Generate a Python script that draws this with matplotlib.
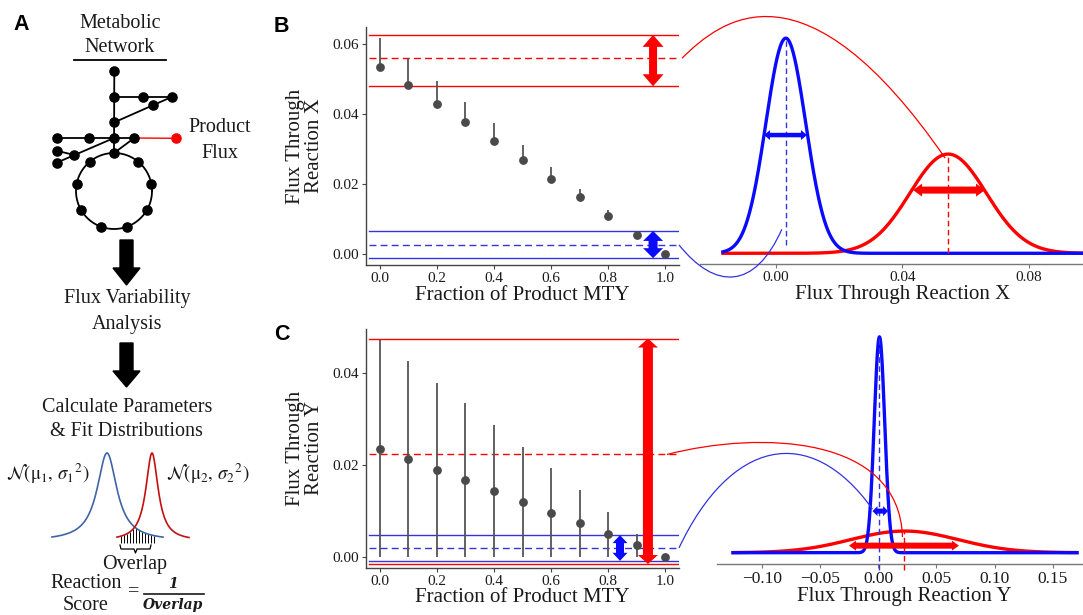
import numpy as np
import matplotlib
matplotlib.use("Agg")
import matplotlib.pyplot as plt
from matplotlib.path import Path
from matplotlib.patches import PathPatch, Polygon, FancyArrow

W, H = 1083, 615

# ---------------- data ----------------
frac_mty = [0.0, 0.1, 0.2, 0.3, 0.4, 0.5, 0.6, 0.7, 0.8, 0.9, 1.0]

# panel B : flux through reaction X (point = lower end of FVA range)
rxnX_point = [0.0536, 0.0484, 0.0430, 0.0377, 0.0323, 0.0269, 0.0216, 0.0162, 0.0109, 0.0054, 0.0]
rxnX_low = [0.0536, 0.0484, 0.0430, 0.0377, 0.0323, 0.0269, 0.0216, 0.0162, 0.0109, 0.0054, 0.0]
rxnX_high = [0.0617, 0.0557, 0.0496, 0.0435, 0.0374, 0.0311, 0.0250, 0.0187, 0.0126, 0.0059, 0.0]

# panel C : flux through reaction Y
rxnY_point = [0.0236, 0.0213, 0.0190, 0.0167, 0.0143, 0.0119, 0.0096, 0.0073, 0.0049, 0.0025, 0.0]
rxnY_low = [0.0] * 11
rxnY_high = [0.0473, 0.0426, 0.0380, 0.0335, 0.0287, 0.0240, 0.0193, 0.0145, 0.0098, 0.0050, 0.0]

# horizontal bands: lower, mean, upper
bandX_red = [0.0480, 0.0560, 0.0627]
bandX_blue = [-0.0012, 0.0026, 0.0066]
bandY_red = [-0.0016, 0.0223, 0.0476]
bandY_blue = [-0.0009, 0.0019, 0.0047]

# fitted distributions: mean, sd, peak density
distX_blue = [0.0031, 0.0063, 63.3]
distX_red = [0.0545, 0.0121, 29.2]
distY_blue = [0.0010, 0.0045, 88.7]
distY_red = [0.0225, 0.0460, 8.9]
gridX = [-0.0168, 0.115]
gridY = [-0.1248, 0.1707]

# spread arrows in distribution panels: height, left end, right end
sprX_blue = [34.8, -0.0038, 0.0098]
sprX_red = [18.6, 0.0434, 0.0662]
sprY_blue = [17.1, -0.0050, 0.0084]
sprY_red = [2.9, -0.0252, 0.0693]

left_xticks = [0.0, 0.2, 0.4, 0.6, 0.8, 1.0]
leftX_yticks = [0.00, 0.02, 0.04, 0.06]
leftY_yticks = [0.00, 0.02, 0.04]
distX_ticks = [0.00, 0.04, 0.08]
distY_ticks = [-0.10, -0.05, 0.00, 0.05, 0.10, 0.15]

# ---------------- style ----------------
plt.rcParams['font.family'] = ['Liberation Serif', 'DejaVu Serif']
plt.rcParams['mathtext.fontset'] = 'stix'
RED = '#ff0000'
BLUE = '#0a0aff'
LBLUE = '#3333e0'
INK = '#1a1a1a'

fig = plt.figure(figsize=(W / 100, H / 100), dpi=100)


def rect(l, t, r, b):
    return [l / W, 1 - b / H, (r - l) / W, (b - t) / H]


axB = fig.add_axes(rect(366, 27, 679, 265))
axC = fig.add_axes(rect(366, 329, 679, 568))
axBr = fig.add_axes(rect(700, 10, 1083, 264))
axCr = fig.add_axes(rect(717, 320, 1083, 564))
axO = fig.add_axes([0, 0, 1, 1])
axO.set_xlim(0, W)
axO.set_ylim(H, 0)
axO.axis('off')
axO.patch.set_alpha(0)
axO.set_zorder(10)


def fva_panel(ax, pts, lo, hi, red, blue, ylim, yticks):
    ax.vlines(frac_mty, lo, hi, color='#555555', lw=1.3, zorder=3)
    ax.plot(frac_mty, pts, 'o', ms=5.3, color='#4a4a4a', mec='#4a4a4a', zorder=4)
    for vals, col in ((red, RED), (blue, LBLUE)):
        ax.axhline(vals[0], xmin=0.01, color=col, lw=1.0, zorder=2)
        ax.axhline(vals[1], xmin=0.01, color=col, lw=1.0, ls=(0, (5, 3)), zorder=2)
        ax.axhline(vals[2], xmin=0.01, color=col, lw=1.0, zorder=2)
    ax.set_xlim(-0.049, 1.049)
    ax.set_ylim(*ylim)
    ax.set_xticks(left_xticks)
    ax.set_xticklabels([f"{v:.1f}" for v in left_xticks])
    ax.set_yticks(yticks)
    ax.set_yticklabels([f"{v:.2f}" for v in yticks])
    for s in ('top', 'right'):
        ax.spines[s].set_visible(False)
    for s in ('left', 'bottom'):
        ax.spines[s].set_color('#444444')
        ax.spines[s].set_linewidth(1.0)
    ax.tick_params(length=3, width=0.8, color='#444444', labelsize=11,
                   labelcolor=INK, pad=2)
    ax.patch.set_alpha(0)


fva_panel(axB, rxnX_point, rxnX_low, rxnX_high, bandX_red, bandX_blue,
          (-0.00315, 0.06495), leftX_yticks)
fva_panel(axC, rxnY_point, rxnY_low, rxnY_high, bandY_red, bandY_blue,
          (-0.00247, 0.04968), leftY_yticks)


def gauss(d, xs):
    return d[2] * np.exp(-0.5 * ((xs - d[0]) / d[1]) ** 2)


def dist_panel(ax, blue, red, grid, xlim, ylim, ticks, labels, dash_lo, tsize):
    xs = np.linspace(grid[0], grid[1], 800)
    ax.plot(xs, gauss(red, xs), color=RED, lw=2.4, zorder=2)
    ax.plot(xs, gauss(blue, xs), color=BLUE, lw=2.4, zorder=3)
    ax.plot([red[0], red[0]], [dash_lo[1], red[2]], color=RED, lw=1.0,
            ls=(0, (4, 2.5)), zorder=4, clip_on=False)
    ax.plot([blue[0], blue[0]], [dash_lo[0], blue[2]], color=LBLUE, lw=1.0,
            ls=(0, (4, 2.5)), zorder=4, clip_on=False)
    ax.set_xlim(*xlim)
    ax.set_ylim(*ylim)
    ax.set_xticks(ticks)
    ax.set_xticklabels(labels)
    ax.set_yticks([])
    for s in ('top', 'right', 'left'):
        ax.spines[s].set_visible(False)
    ax.spines['bottom'].set_color('#777777')
    ax.spines['bottom'].set_linewidth(1.0)
    ax.tick_params(length=3, width=0.8, color='#777777', labelsize=tsize,
                   labelcolor=INK, pad=2)
    ax.patch.set_alpha(0)


dist_panel(axBr, distX_blue, distX_red, gridX, (-0.02407, 0.09721), (-3.15, 71.6),
           distX_ticks, [f"{v:.2f}" for v in distX_ticks], (2.4, 0.0), 11)
dist_panel(axCr, distY_blue, distY_red, gridY, (-0.1386, 0.1759), (-4.64, 95.6),
           distY_ticks, [f"{v:.2f}".replace('-', '\u2212') for v in distY_ticks],
           (-7.1, -7.1), 12.5)


# ---------------- helpers in pixel space ----------------
def pix(ax, x, y):
    xd, yd = ax.transData.transform((x, y))
    return np.array([xd, H - yd])


def dbl_arrow(p0, p1, w, hw, hl, color, z=6):
    p0 = np.asarray(p0, float)
    p1 = np.asarray(p1, float)
    d = p1 - p0
    u = d / np.hypot(*d)
    n = np.array([-u[1], u[0]])
    a = p0 + u * hl
    b = p1 - u * hl
    verts = [p0, a + n * hw / 2, a + n * w / 2, b + n * w / 2, b + n * hw / 2,
             p1, b - n * hw / 2, b - n * w / 2, a - n * w / 2, a - n * hw / 2]
    axO.add_patch(Polygon(verts, closed=True, fc=color, ec='none', zorder=z))


def connector(p0, c1, c2, p3, color, lw=0.9):
    path = Path([p0, c1, c2, p3], [Path.MOVETO, Path.CURVE4, Path.CURVE4, Path.CURVE4])
    axO.add_patch(PathPatch(path, fc='none', ec=color, lw=lw, zorder=5))


# spread arrows on FVA panels
arrow_x_B = 0.958
arrow_x_C_red = 0.94
arrow_x_C_blue = 0.842
dbl_arrow(pix(axB, arrow_x_B, bandX_red[2]), pix(axB, arrow_x_B, bandX_red[0]), 8, 21, 12, RED)
dbl_arrow(pix(axB, arrow_x_B, bandX_blue[2]), pix(axB, arrow_x_B, bandX_blue[0]), 9, 20, 10, BLUE)
dbl_arrow(pix(axC, arrow_x_C_red, bandY_red[2]), pix(axC, arrow_x_C_red, bandY_red[0]), 10, 20, 9, RED)
dbl_arrow(pix(axC, arrow_x_C_blue, bandY_blue[2]), pix(axC, arrow_x_C_blue, bandY_blue[0]), 8, 15, 8, BLUE)

# spread arrows on distribution panels
dbl_arrow(pix(axBr, sprX_blue[1], sprX_blue[0]), pix(axBr, sprX_blue[2], sprX_blue[0]), 4.5, 10, 6, BLUE)
dbl_arrow(pix(axBr, sprX_red[1], sprX_red[0]), pix(axBr, sprX_red[2], sprX_red[0]), 7, 13, 9, RED)
dbl_arrow(pix(axCr, sprY_blue[1], sprY_blue[0]), pix(axCr, sprY_blue[2], sprY_blue[0]), 5, 10, 5, BLUE)
dbl_arrow(pix(axCr, sprY_red[1], sprY_red[0]), pix(axCr, sprY_red[2], sprY_red[0]), 6, 10, 7, RED)

# connectors from FVA mean lines to fitted distributions
s = pix(axB, axB.get_xlim()[1], bandX_red[1]) + np.array([3, 0])
e = pix(axBr, distX_red[0], distX_red[2]) + np.array([-3, 4])
connector(s, s + np.array([40, -40]), e + np.array([-140, -203]), e, RED)

s = pix(axB, axB.get_xlim()[1], bandX_blue[1])
e = pix(axBr, distX_blue[0], 0) + np.array([-4, -24])
connector(s, s + np.array([36, 45]), e + np.array([-27, 61]), e, LBLUE)

s = pix(axC, axC.get_xlim()[1], bandY_red[1]) + np.array([-12, 0])
e = pix(axCr, distY_red[0], distY_red[2]) + np.array([-2, 6])
connector(s, s + np.array([93, -24]), e + np.array([-3, -102]), e, RED)

s = pix(axC, axC.get_xlim()[1], bandY_blue[1])
e = pix(axCr, sprY_blue[1], sprY_blue[0]) + np.array([0, -2])
connector(s, s + np.array([51, -108]), e + np.array([-63, -88]), e, LBLUE)

# ---------------- axis titles ----------------
TS = 15
axO.text(305, 146, "Flux Through\nReaction X", rotation=90, ha='center', va='center',
         fontsize=TS, linespacing=0.95, color=INK)
axO.text(305, 448, "Flux Through\nReaction Y", rotation=90, ha='center', va='center',
         fontsize=TS, linespacing=0.95, color=INK)
axO.text(522, 295, "Fraction of Product MTY", ha='center', va='center', fontsize=TS, color=INK)
axO.text(522, 598, "Fraction of Product MTY", ha='center', va='center', fontsize=TS, color=INK)
axO.text(903, 295, "Flux Through Reaction X", ha='center', va='center', fontsize=TS, color=INK)
axO.text(904, 596, "Flux Through Reaction Y", ha='center', va='center', fontsize=TS, color=INK)

for lab, x, y in (("A", 21, 24), ("B", 281, 26), ("C", 282, 334)):
    axO.text(x, y, lab, ha='center', va='center', fontsize=15.5, fontweight='bold',
             family='Liberation Sans', color='black')

# ---------------- panel A schematic ----------------
AS = 14.5
axO.text(120, 23, "Metabolic", ha='center', va='center', fontsize=AS, color=INK)
axO.text(120, 47, "Network", ha='center', va='center', fontsize=AS, color=INK)
axO.plot([74, 166], [60, 60], color='black', lw=1.3)

net_nodes_x = [114.3, 114.3, 142.7, 172.3, 153.3, 114.3, 56.7, 88.5, 114.0, 134.3, 56.7, 74.3, 56.7]
net_nodes_y = [70.7, 96.7, 96.7, 96.7, 105.0, 122.3, 138.0, 138.0, 138.0, 138.0, 150.7, 155.0, 162.7]
ring_center = (114.0, 191.0)
ring_radius = 38.0
ring_n = 9
ang = np.deg2rad(np.arange(ring_n) * 360 / ring_n)
ring_x = ring_center[0] + ring_radius * np.sin(ang)
ring_y = ring_center[1] - ring_radius * np.cos(ang)
edges = [(0, 'top'), (1, 3), (3, 5), (6, 9), (9, 'top'), (10, 11), (12, 8)]
for a_, b_ in edges:
    xa, ya = net_nodes_x[a_], net_nodes_y[a_]
    if b_ == 'top':
        xb, yb = ring_x[0], ring_y[0]
    else:
        xb, yb = net_nodes_x[b_], net_nodes_y[b_]
    axO.plot([xa, xb], [ya, yb], color='black', lw=1.3, zorder=3)
tt = np.linspace(0, 2 * np.pi, 200)
axO.plot(ring_center[0] + ring_radius * np.cos(tt), ring_center[1] + ring_radius * np.sin(tt),
         color='black', lw=1.3, zorder=3)
axO.plot(net_nodes_x, net_nodes_y, 'o', ms=6.6, color='black', zorder=4)
axO.plot(ring_x, ring_y, 'o', ms=6.6, color='black', zorder=4)
product_node = (175.7, 138.3)
axO.plot([net_nodes_x[9], product_node[0]], [net_nodes_y[9], product_node[1]], color=RED, lw=1.0, zorder=3)
axO.plot([product_node[0]], [product_node[1]], 'o', ms=6.6, color=RED, zorder=4)
axO.text(220, 128, "Product", ha='center', va='center', fontsize=AS, color=INK)
axO.text(220, 154, "Flux", ha='center', va='center', fontsize=AS, color=INK)

axO.add_patch(FancyArrow(126.5, 240, 0, 45, width=13, head_width=27, head_length=17,
                         length_includes_head=True, color='black', zorder=4))
axO.add_patch(FancyArrow(126.5, 343, 0, 44, width=13, head_width=27, head_length=16,
                         length_includes_head=True, color='black', zorder=4))
axO.text(127, 298, "Flux Variability", ha='center', va='center', fontsize=AS, color=INK)
axO.text(127, 324, "Analysis", ha='center', va='center', fontsize=AS, color=INK)
axO.text(127, 407, "Calculate Parameters", ha='center', va='center', fontsize=AS, color=INK)
axO.text(126, 432, "& Fit Distributions", ha='center', va='center', fontsize=AS, color=INK)
axO.text(48, 474, r"$\mathcal{N}(\mathrm{μ}_1,\, \sigma_1{}^2)$", ha='center', va='center',
         fontsize=13.5, color=INK)
axO.text(208, 474, r"$\mathcal{N}(\mathrm{μ}_2,\, \sigma_2{}^2)$", ha='center', va='center',
         fontsize=13.5, color=INK)

# schematic distributions (Lorentzian-like bumps)
sch_base = 541.0
sch_height = 88.0
sch_blue = (107.0, 12.0, 52.0, 163.0)   # centre, half-width, start, end
sch_red = (152.0, 7.5, 117.0, 189.0)


def bump(p, xs):
    return sch_base - sch_height / (1 + ((xs - p[0]) / p[1]) ** 2)


xb_ = np.linspace(sch_blue[2], sch_blue[3], 300)
xr_ = np.linspace(sch_red[2], sch_red[3], 300)
axO.plot(xb_, bump(sch_blue, xb_), color='#3f65a8', lw=1.2, zorder=4)
axO.plot(xr_, bump(sch_red, xr_), color='#c41010', lw=1.2, zorder=4)
hx = np.arange(121, 156, 3.0)
htop = np.maximum(bump(sch_blue, hx), bump(sch_red, hx))
axO.vlines(hx, htop, 543, color='black', lw=0.7, zorder=3)
axO.plot([120, 121, 134, 135.5, 137, 150, 151], [545, 549, 549, 553, 549, 549, 545],
         color='black', lw=0.9)
axO.text(135, 564, "Overlap", ha='center', va='center', fontsize=AS, color=INK)
axO.text(86, 584, "Reaction", ha='center', va='center', fontsize=AS, color=INK)
axO.text(86, 605, "Score", ha='center', va='center', fontsize=AS, color=INK)
axO.text(134, 592, "=", ha='center', va='center', fontsize=AS, color=INK)
axO.text(173, 584, "1", ha='center', va='center', fontsize=10, color=INK,
         family='DejaVu Serif', fontweight='bold', style='italic')
axO.plot([144, 204], [594, 594], color=INK, lw=1.2)
axO.text(173, 605, "Overlap", ha='center', va='center', fontsize=10, color=INK,
         family='DejaVu Serif', fontweight='bold', style='italic')

fig.savefig("out.png", dpi=100)
